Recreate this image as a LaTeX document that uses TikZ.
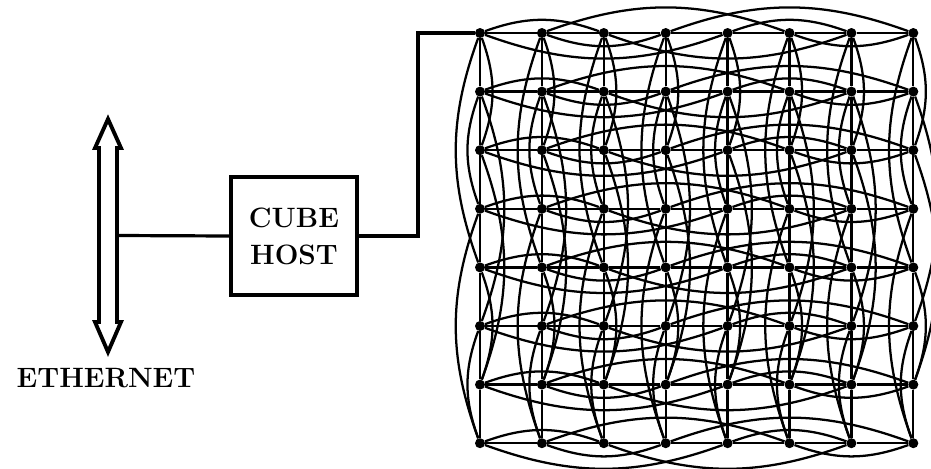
\documentclass[tikz,border=0pt]{standalone}
\begin{document}
\begin{tikzpicture}[x=0.75pt,y=0.75pt,
  dot/.style={circle,fill=black,inner sep=0pt,minimum size=7.5pt},
  gline/.style={line width=1.7pt},
  hline/.style={line width=2.4pt},
  hostbox/.style={draw,line width=2.6pt,minimum width=126*0.75pt,minimum height=118*0.75pt,align=center,inner sep=0pt,font=\fontsize{21}{27.75}\selectfont\bfseries},
  lbl/.style={font=\fontsize{21}{25}\selectfont\bfseries,inner sep=0pt}]
\useasboundingbox (0,0) rectangle (931,-468);
% grid nodes
\foreach \r in {0,...,7}{
  \foreach \c in {0,...,7}{
    \node[dot] (n\r\c) at ({480+61.9*\c},{-(33+58.6*\r)}) {};
  }
}
% straight links in rows and columns
\foreach \r in {0,...,7}{
  \foreach \c [evaluate=\c as \d using int(\c+1)] in {0,...,6}{
    \draw[gline] (n\r\c) -- (n\r\d);
    \draw[gline] (n\c\r) -- (n\d\r);
  }
}
% row arcs
\foreach \r in {0,...,7}{
  \foreach \a/\b/\s in {0/2/left,1/3/right,4/6/left,5/7/right,0/4/right,1/5/left,2/6/right,3/7/left}{
    \draw[gline] (n\r\a) to[bend \s=20] (n\r\b);
  }
}
% column arcs
\foreach \c in {0,...,7}{
  \foreach \a/\b/\s in {0/2/left,1/3/right,4/6/left,5/7/right,0/4/right,1/5/left,2/6/left,3/7/right}{
    \draw[gline] (n\a\c) to[bend \s=20] (n\b\c);
  }
}
% ethernet double arrow
\draw[line width=2.9pt,fill=white,line join=miter]
  (108,-119) -- (121,-148) -- (117,-148) -- (117,-322) -- (121,-322) -- (108,-352)
  -- (95,-322) -- (99,-322) -- (99,-148) -- (95,-148) -- cycle;
\coordinate (eth) at (118,-235.5);
\node[lbl] (ethl) at (106,-378) {ETHERNET};
% host
\node[hostbox] (host) at (294,-236) {CUBE\\HOST};
\coordinate (bend) at (418,-33);
\draw[hline] (eth) -- (host.west);
\draw[hline] (host.east) -| (bend) -- (n00);
\end{tikzpicture}
\end{document}
